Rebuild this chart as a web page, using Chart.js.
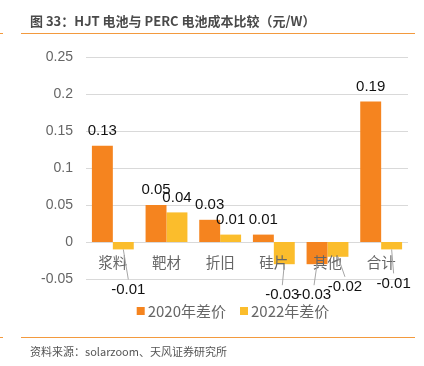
<!DOCTYPE html>
<html>
<head>
<meta charset="utf-8">
<script src="https://cdn.jsdelivr.net/npm/chart.js@4.4.1/dist/chart.umd.min.js"></script>
<style>
  html, body { margin: 0; padding: 0; background: #fff; }
  #wrap { position: relative; width: 424px; height: 366px; overflow: hidden; }
  #c { position: absolute; left: 0; top: 0; }
  .title { position: absolute; left: 30px; top: 11px; font: bold 13px "Noto Sans CJK SC", "Liberation Sans", sans-serif; color: #4a4a4a; white-space: nowrap; }
  .rule { position: absolute; height: 1px; background: #f39a3e; }
  .foot { position: absolute; left: 30px; top: 343px; font: 11px "Noto Sans CJK SC", "Liberation Sans", sans-serif; color: #555; white-space: nowrap; }
</style>
</head>
<body>
<div id="wrap">
  <canvas id="c" width="424" height="366"></canvas>
  <div class="title">图 33：HJT 电池与 PERC 电池成本比较（元/W）</div>
  <div class="rule" style="left:21px;top:33px;width:394px"></div>
  <div class="rule" style="left:0;top:33px;width:3px"></div>
  <div class="rule" style="left:21px;top:337px;width:394px"></div>
  <div class="rule" style="left:0;top:337px;width:3px"></div>
  <div class="foot">资料来源：solarzoom、天风证券研究所</div>
</div>
<script>
const categories = ['浆料', '靶材', '折旧', '硅片', '其他', '合计'];
const diff2020 = [0.13, 0.05, 0.03, 0.01, -0.03, 0.19];
const diff2022 = [-0.01, 0.04, 0.01, -0.03, -0.02, -0.01];
const seriesNames = ['2020年差价', '2022年差价'];
const colors = ['#f5841f', '#fbbd2c'];

// label nudges (px) for negative values, like the dragged Excel labels
const negOffsets = [
  [null, null, null, null, [-3, 31], null],
  [[5, 40], null, null, [-2, 31], [7, 30], [2, 34]]
];

const labelPlugin = {
  id: 'labels',
  afterDatasetsDraw(chart) {
    const ctx = chart.ctx;
    const x = chart.scales.x, y = chart.scales.y;
    const zero = y.getPixelForValue(0);
    ctx.save();
    ctx.textAlign = 'center';
    ctx.textBaseline = 'middle';
    // category names just under the zero line
    ctx.font = '14.5px "Noto Sans CJK SC", sans-serif';
    ctx.fillStyle = '#666';
    categories.forEach((c, i) => ctx.fillText(c, x.getPixelForValue(i), zero + 20));

    ctx.font = '15px "Liberation Sans", Arial, sans-serif';
    ctx.fillStyle = '#111';
    chart.data.datasets.forEach((ds, di) => {
      const meta = chart.getDatasetMeta(di);
      meta.data.forEach((bar, i) => {
        const v = ds.data[i];
        const txt = String(v);
        if (v >= 0) {
          ctx.fillText(txt, bar.x, bar.y - 15);
        } else {
          const off = negOffsets[di][i] || [0, 32];
          const lx = bar.x + off[0], ly = bar.y + off[1];
          ctx.strokeStyle = '#a6a6a6';
          ctx.lineWidth = 1;
          ctx.beginPath();
          ctx.moveTo(bar.x, bar.y);
          ctx.lineTo(lx, ly - 10);
          ctx.stroke();
          ctx.fillText(txt, lx, ly);
        }
      });
    });

    // legend, centred a bit left of the plot like the original
    ctx.font = '15px "Noto Sans CJK SC", sans-serif';
    ctx.textAlign = 'left';
    const box = 8, gap = 3, itemGap = 14, ly = zero + 69;
    const widths = chart.data.datasets.map(ds => box + gap + ctx.measureText(ds.label).width);
    const total = widths.reduce((a, b) => a + b, 0) + itemGap * (widths.length - 1);
    let lx = chart.width / 2 + 21 - total / 2;
    chart.data.datasets.forEach((ds, di) => {
      ctx.fillStyle = ds.backgroundColor;
      ctx.fillRect(lx, ly - box / 2, box, box);
      ctx.fillStyle = '#666';
      ctx.fillText(ds.label, lx + box + gap, ly);
      lx += widths[di] + itemGap;
    });
    ctx.restore();
  }
};

new Chart(document.getElementById('c'), {
  type: 'bar',
  data: {
    labels: categories,
    datasets: [
      { label: seriesNames[0], data: diff2020, backgroundColor: colors[0] },
      { label: seriesNames[1], data: diff2022, backgroundColor: colors[1] }
    ]
  },
  options: {
    responsive: false,
    animation: false,
    layout: { padding: { left: 30, right: 16, top: 57, bottom: 87 } },
    datasets: { bar: { barPercentage: 1, categoryPercentage: 0.78 } },
    scales: {
      x: {
        grid: { display: false },
        border: { display: false },
        ticks: { display: false },
        afterFit: s => { s.height = 0; }
      },
      y: {
        min: -0.05,
        max: 0.25,
        ticks: {
          stepSize: 0.05,
          padding: 13,
          color: '#666',
          font: { family: '"Liberation Sans", Arial, sans-serif', size: 14 },
          callback: v => String(+v.toFixed(2))
        },
        grid: { color: '#d9d9d9', drawTicks: false },
        border: { display: false },
        afterFit: s => { s.width = 56; }
      }
    },
    plugins: {
      legend: { display: false },
      tooltip: { enabled: false }
    }
  },
  plugins: [labelPlugin]
});
</script>
</body>
</html>
